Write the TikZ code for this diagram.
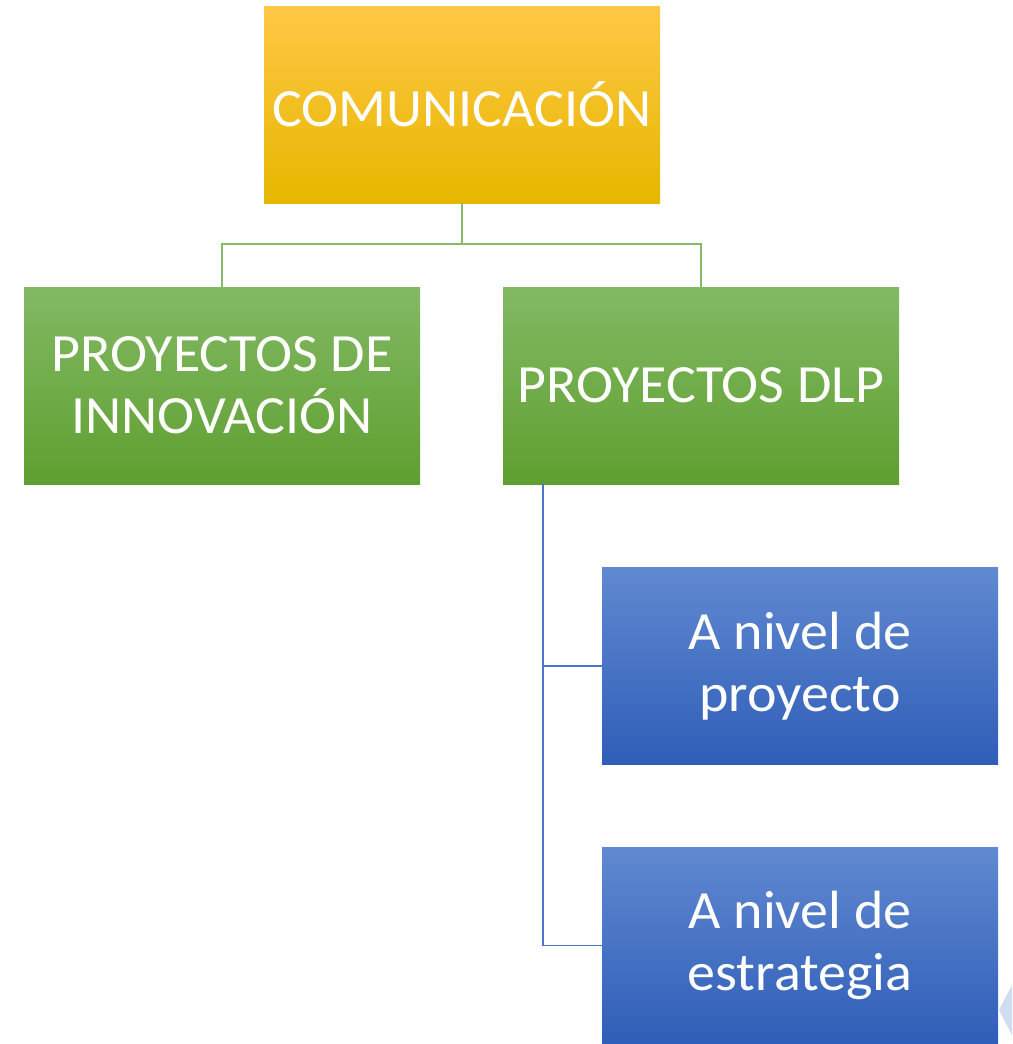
\documentclass[tikz,border=0pt]{standalone}
\usepackage{fontspec}
\setmainfont{Carlito}[FakeStretch=1.04]
\usepackage{tikz}
\usetikzlibrary{positioning}

\definecolor{amarA}{HTML}{FFC745}
\definecolor{amarB}{HTML}{FFC400}
\definecolor{amarC}{HTML}{E6B700}
\definecolor{verdeA}{HTML}{83B964}
\definecolor{verdeB}{HTML}{6EAD3C}
\definecolor{verdeC}{HTML}{5F9F30}
\definecolor{azulA}{HTML}{6189D1}
\definecolor{azulB}{HTML}{4271CA}
\definecolor{azulC}{HTML}{2F5EB8}
\definecolor{lineaV}{HTML}{86BA67}
\definecolor{lineaA}{HTML}{4A77CB}

\begin{document}
\begin{tikzpicture}[x=1pt, y=-1pt,
    caja/.style = {minimum width=396pt, minimum height=197pt, inner sep=0pt,
                   text=white, align=center,
                   font=\fontsize{53.8}{62}\selectfont},
    cajaA/.style = {caja, top color=amarA, middle color=amarB, bottom color=amarC},
    cajaV/.style = {caja, top color=verdeA, middle color=verdeB, bottom color=verdeC},
    cajaZ/.style = {caja, top color=azulA, middle color=azulB, bottom color=azulC}]
                \useasboundingbox (0,0) rectangle (1012,1044);
                \node[cajaA] at (462,104.5) (C) {COMUNICACIÓN};
                \node[cajaV] at (222,385.5) (PI) {PROYECTOS DE\\INNOVACIÓN};
                \node[cajaV] at (701,385.5) (PD) {PROYECTOS DLP};
                \node[cajaZ] at (800,666) (AP) {A nivel de\\proyecto};
                \node[cajaZ] at (800,945.5) (AE) {A nivel de\\estrategia};
                \coordinate (T) at ([xshift=40pt]PD.south west);

                \draw [lineaV, line width=1.5pt] (C.south) -- ++(0,41) -| (PI.north);
                \draw [lineaV, line width=1.5pt] (C.south) -- ++(0,41) -| (PD.north);
                \draw [lineaA, line width=1.5pt] (T) |- (AP.west);
                \draw [lineaA, line width=1.5pt] (T) |- (AE.west);

                \fill [azulA!30] (999,1010) -- (1012,985) -- (1012,1035) -- cycle;
            \end{tikzpicture}
\end{document}
